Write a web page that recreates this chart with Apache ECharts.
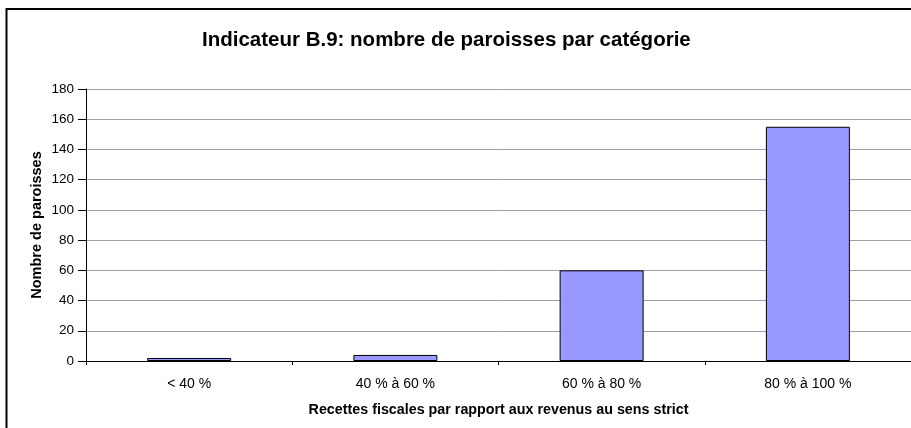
<!DOCTYPE html>
<html>
<head>
<meta charset="utf-8">
<script src="https://cdn.jsdelivr.net/npm/echarts@6/dist/echarts.min.js"></script>
<style>
  html, body { margin: 0; padding: 0; background: #fff; }
</style>
</head>
<body>
<div id="main" style="width: 911px;height:428px;"></div>
<script>
// données
var categories = ['< 40 %', '40 % à 60 %', '60 % à 80 %', '80 % à 100 %'];
var paroisses = [2, 4, 60, 155];
var yTicks = { min: 0, max: 180, interval: 20 };

var myChart = echarts.init(document.getElementById('main'));
var font = 'Liberation Sans, Arial, sans-serif';

var option = {
  animation: false,
  backgroundColor: '#fff',
  title: {
    text: 'Indicateur B.9: nombre de paroisses par catégorie',
    left: 197,
    top: 25,
    textStyle: { fontFamily: font, fontSize: 20.5, fontWeight: 'bold', color: '#000' }
  },
  graphic: [{
    type: 'rect',
    shape: { x: 6.5, y: 9, width: 920, height: 440 },
    style: { fill: null, stroke: '#000', lineWidth: 2 },
    silent: true
  }],
  grid: { left: 86, right: 0, top: 89, bottom: 67, containLabel: false },
  xAxis: {
    type: 'category',
    data: categories,
    name: 'Recettes fiscales par rapport aux revenus au sens strict',
    nameLocation: 'middle',
    nameGap: 42,
    nameMoveOverlap: false,
    nameTextStyle: { fontFamily: font, fontSize: 14.3, fontWeight: 'bold', color: '#000' },
    axisLine: { lineStyle: { color: '#000', width: 1 } },
    axisTick: { show: true, length: 4, inside: false, lineStyle: { color: '#000' } },
    axisLabel: { fontFamily: font, fontSize: 14, color: '#000', margin: 16 },
    splitLine: { show: false }
  },
  yAxis: {
    type: 'value',
    min: yTicks.min,
    max: yTicks.max,
    interval: yTicks.interval,
    name: 'Nombre de paroisses',
    nameLocation: 'middle',
    nameGap: 42,
    nameMoveOverlap: false,
    nameTextStyle: { fontFamily: font, fontSize: 14.5, fontWeight: 'bold', color: '#000' },
    axisLine: { show: true, lineStyle: { color: '#000', width: 1 } },
    axisTick: { show: true, length: 8, lineStyle: { color: '#000' } },
    axisLabel: { fontFamily: font, fontSize: 13.5, color: '#000', margin: 12 },
    splitLine: { show: true, lineStyle: { color: '#a0a0a0', width: 1 } }
  },
  series: [{
    type: 'bar',
    data: paroisses,
    barWidth: 84,
    itemStyle: { color: '#9999ff', borderColor: '#000', borderWidth: 1 }
  }]
};

myChart.setOption(option);
window.addEventListener('resize', function () {
  myChart.resize();
});
</script>
</body>
</html>
